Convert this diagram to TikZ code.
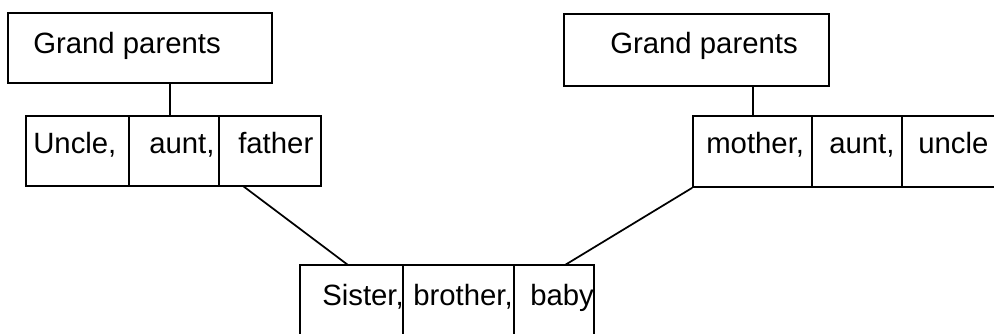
\documentclass[tikz,border=0pt]{standalone}
\usepackage{fontspec}
\setmainfont{Liberation Sans}
\usetikzlibrary{fit}
\begin{document}
\begin{tikzpicture}[x=0.75pt,y=-0.75pt,
  cell/.style={draw, line width=1.3pt, inner sep=0pt},
  lbl/.style={anchor=base west, inner sep=0pt, font=\fontsize{22}{26}\selectfont},
  link/.style={line width=1.3pt}]
  \useasboundingbox[fill=white] (0,0) rectangle (994,333);
  \clip (0,0) rectangle (994,333);

  % father's side
  \node[cell, fit={(8,13) (272,83)}] (lgp) {};
  \node[cell, fit={(26,116) (129,186)}] (lunc) {};
  \node[cell, fit={(129,116) (219,186)}] (laun) {};
  \node[cell, fit={(219,116) (321,186)}] (lfat) {};

  % mother's side
  \node[cell, fit={(564,14) (829,86)}] (rgp) {};
  \node[cell, fit={(693,116) (812,187)}] (rmot) {};
  \node[cell, fit={(812,116) (902,187)}] (raun) {};
  \node[cell, fit={(902,116) (1000,187)}] (runc) {};

  % children
  \node[cell, fit={(300,265) (403,345)}] (csis) {};
  \node[cell, fit={(403,265) (514,345)}] (cbro) {};
  \node[cell, fit={(514,265) (594,345)}] (cbab) {};

  % labels
  \node[lbl] (tlgp) at (33,53) {Grand parents};
  \node[lbl] (trgp) at (610,53) {Grand parents};
  \node[lbl] (tlunc) at (33,153) {Uncle,};
  \node[lbl] (tlaun) at (149,153) {aunt,};
  \node[lbl] (tlfat) at (238,153) {father};
  \node[lbl] (trmot) at (706,153) {mother,};
  \node[lbl] (traun) at (829,153) {aunt,};
  \node[lbl] (trunc) at (918,153) {uncle};
  \node[lbl] (tcsis) at (322,305) {Sister,};
  \node[lbl] (tcbro) at (413,305) {brother,};
  \node[lbl] (tcbab) at (530,305) {baby};

  % connectors
  \coordinate (ltap) at (170,116);
  \draw[link] (ltap |- lgp.south) -- (ltap);
  \coordinate (rtap) at (753,116);
  \draw[link] (rtap |- rgp.south) -- (rtap);

  \coordinate (lfoot) at (243,186);
  \coordinate (ltop) at (348,265);
  \draw[link] (lfoot) -- (ltop);
  \coordinate (rtop) at (565,265);
  \draw[link] (rmot.south west) -- (rtop);
\end{tikzpicture}
\end{document}
